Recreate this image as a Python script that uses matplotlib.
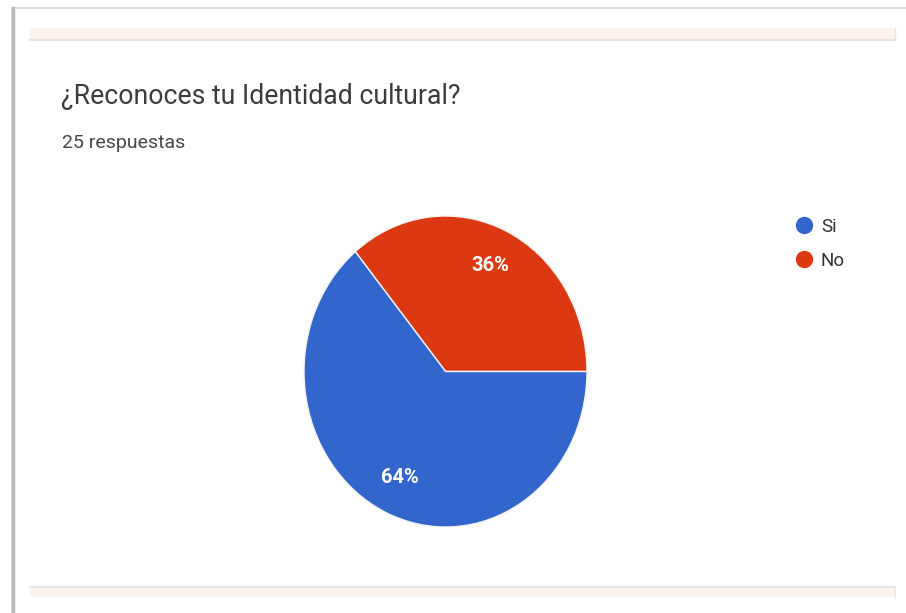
import matplotlib.pyplot as plt
from matplotlib.lines import Line2D
from matplotlib.patches import Rectangle

plt.rcParams["font.family"] = ["Roboto", "DejaVu Sans"]

title = "¿Reconoces tu Identidad cultural?"
subtitle = "25 respuestas"
labels = ["No", "Si"]
values = [9, 16]
colors = ["#dc3912", "#3366cc"]
legend_order = ["Si", "No"]

W, H = 906, 613
fig = plt.figure(figsize=(W / 100, H / 100), dpi=100)
fig.patch.set_facecolor("white")

# card frame, drawn in pixel units
bg = fig.add_axes([0, 0, 1, 1])
bg.set_xlim(0, W)
bg.set_ylim(H, 0)
bg.axis("off")
bg.add_patch(Rectangle((12, 8), W, H, facecolor="white", edgecolor="#d6d6d6", lw=1.2))
bg.plot([12.5, 12.5], [8, H], color="#b9b9b9", lw=2.5)
bg.add_patch(Rectangle((30, 28), 865, 11, facecolor="#fdf3ee", edgecolor="none"))
bg.plot([30, 895], [39.5, 39.5], color="#e4e4e4", lw=1.5)
bg.add_patch(Rectangle((30, 587), 865, 10, facecolor="#fdf3ee", edgecolor="none"))
bg.plot([30, 895], [587, 587], color="#e4e4e4", lw=1.5)
bg.plot([895, 895], [28, 40], color="#e6e6e6", lw=1)
bg.plot([895, 895], [587, 597], color="#e6e6e6", lw=1)

bg.text(61, 96, title, fontsize=19.2, color="#3c3c3c", va="center", ha="left")
bg.text(62, 143, subtitle, fontsize=14, color="#474747", va="center", ha="left")

# pie
left, right, top, bottom = 304, 587, 216, 527
ax = fig.add_axes([left / W, 1 - bottom / H, (right - left) / W, (bottom - top) / H])
wedges, _, autotexts = ax.pie(
    values, colors=colors, startangle=0, counterclock=True,
    autopct="%1.0f%%", pctdistance=0.75,
    wedgeprops=dict(edgecolor="#f3f3f3", linewidth=1),
    textprops=dict(color="white", fontsize=14.5, fontweight="bold"),
)
ax.set_aspect("auto")
ax.set_xlim(-1, 1)
ax.set_ylim(-1, 1)

handles = [Line2D([], [], marker="o", ls="none", markersize=12.5,
                  markerfacecolor=colors[labels.index(l)], markeredgecolor="none")
           for l in legend_order]
fig.legend(handles, legend_order, loc="upper left", bbox_to_anchor=(776 / W, 1 - 201 / H),
           frameon=False, fontsize=13.5, handletextpad=0.3, labelspacing=0.85,
           handlelength=1.2, labelcolor="#333333")

fig.savefig("out.png", dpi=100)
